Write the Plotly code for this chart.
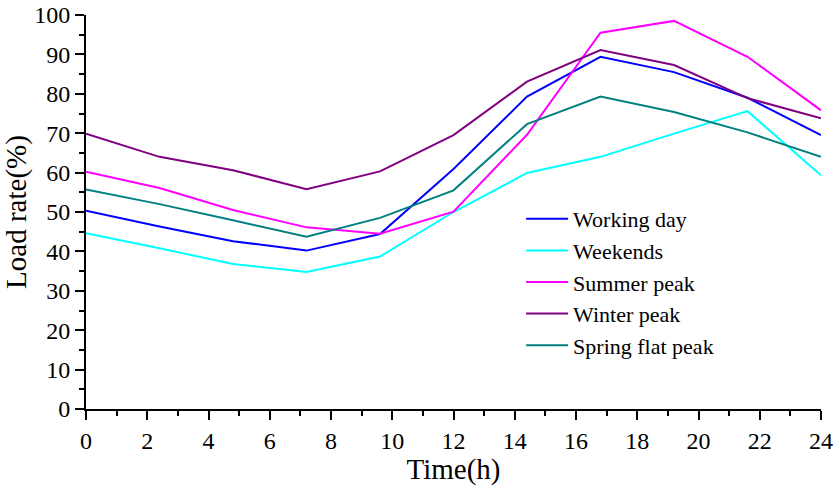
import plotly.graph_objects as go

hours = [0, 2.4, 4.8, 7.2, 9.6, 12, 14.4, 16.8, 19.2, 21.6, 24]
working_day = [50.3, 46.3, 42.6, 40.2, 44.4, 60.9, 79.3, 89.4, 85.5, 79.0, 69.5]
weekends = [44.6, 40.8, 36.8, 34.8, 38.7, 50.0, 59.9, 64.0, 69.9, 75.6, 59.3]
summer_peak = [60.2, 56.1, 50.5, 46.1, 44.5, 50.1, 69.6, 95.5, 98.5, 89.4, 75.8]
winter_peak = [69.9, 64.0, 60.6, 55.8, 60.3, 69.5, 83.1, 91.1, 87.3, 78.9, 73.8]
spring_flat_peak = [55.7, 52.0, 47.9, 43.7, 48.5, 55.5, 72.3, 79.3, 75.4, 70.2, 64.0]

series = [
    ("Working day", working_day, "#0000FF"),
    ("Weekends", weekends, "#00FFFF"),
    ("Summer peak", summer_peak, "#FF00FF"),
    ("Winter peak", winter_peak, "#800080"),
    ("Spring flat peak", spring_flat_peak, "#008080"),
]

FONT = "Liberation Serif, Times New Roman, serif"

fig = go.Figure()
for name, vals, color in series:
    fig.add_trace(go.Scatter(x=hours, y=vals, mode="lines", name=name,
                             line=dict(color=color, width=2)))

axis_common = dict(
    showgrid=False, zeroline=False, showline=True, linecolor="black", linewidth=2,
    ticks="outside", tickcolor="black", tickwidth=2, ticklen=9,
    tickfont=dict(family=FONT, size=24, color="black"),
    mirror=False,
)

fig.update_xaxes(range=[0, 24], dtick=2, tick0=0, automargin="bottom",
                 minor=dict(dtick=1, ticks="outside", ticklen=5, tickwidth=2, tickcolor="black"),
                 title=dict(text="Time(h)", font=dict(family=FONT, size=29, color="black"), standoff=0),
                 **axis_common)
fig.update_yaxes(range=[0, 100], dtick=10, tick0=0, automargin="left",
                 minor=dict(dtick=5, ticks="outside", ticklen=5, tickwidth=2, tickcolor="black"),
                 title=dict(text="Load rate(%)", font=dict(family=FONT, size=29, color="black"), standoff=0),
                 **axis_common)

fig.update_layout(
    width=836, height=486,
    margin=dict(l=86, r=15, t=15, b=74),
    plot_bgcolor="white", paper_bgcolor="white",
    font=dict(family=FONT, color="black"),
    legend=dict(x=0.592, y=0.5355, xanchor="left", yanchor="top",
                bgcolor="rgba(0,0,0,0)", borderwidth=0, itemwidth=42,
                font=dict(family=FONT, size=22, color="black")),
    showlegend=True,
)

fig.write_html("out.html")
